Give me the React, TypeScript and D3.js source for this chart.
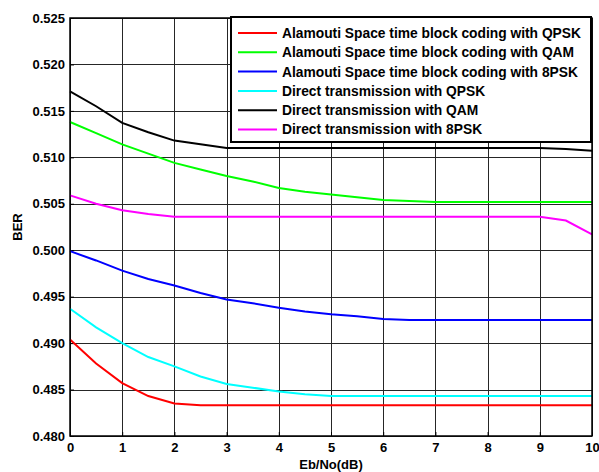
import React, { useRef, useEffect } from 'react';
import * as d3 from 'd3';

const snr = [0, 0.5, 1, 1.5, 2, 2.5, 3, 3.5, 4, 4.5, 5, 5.5, 6, 6.5, 7, 7.5, 8, 8.5, 9, 9.5, 10];

const stbcQpsk = [0.4904, 0.4878, 0.4857, 0.4843, 0.4835, 0.4833, 0.4833, 0.4833, 0.4833, 0.4833, 0.4833, 0.4833, 0.4833, 0.4833, 0.4833, 0.4833, 0.4833, 0.4833, 0.4833, 0.4833, 0.4833];
const stbcQam = [0.5138, 0.5126, 0.5114, 0.5104, 0.5094, 0.5087, 0.5080, 0.5074, 0.5067, 0.5063, 0.5060, 0.5057, 0.5054, 0.5053, 0.5052, 0.5052, 0.5052, 0.5052, 0.5052, 0.5052, 0.5052];
const stbc8psk = [0.4999, 0.4989, 0.4978, 0.4969, 0.4962, 0.4954, 0.4947, 0.4943, 0.4938, 0.4934, 0.4931, 0.4929, 0.4926, 0.4925, 0.4925, 0.4925, 0.4925, 0.4925, 0.4925, 0.4925, 0.4925];
const directQpsk = [0.4937, 0.4917, 0.4900, 0.4885, 0.4875, 0.4864, 0.4856, 0.4852, 0.4848, 0.4845, 0.4843, 0.4843, 0.4843, 0.4843, 0.4843, 0.4843, 0.4843, 0.4843, 0.4843, 0.4843, 0.4843];
const directQam = [0.5171, 0.5155, 0.5137, 0.5127, 0.5118, 0.5114, 0.5110, 0.5110, 0.5110, 0.5110, 0.5110, 0.5110, 0.5110, 0.5110, 0.5110, 0.5110, 0.5110, 0.5110, 0.5110, 0.5109, 0.5107];
const direct8psk = [0.5059, 0.5050, 0.5043, 0.5039, 0.5036, 0.5036, 0.5036, 0.5036, 0.5036, 0.5036, 0.5036, 0.5036, 0.5036, 0.5036, 0.5036, 0.5036, 0.5036, 0.5036, 0.5036, 0.5032, 0.5017];

const seriesNames = [
  'Alamouti Space time block coding with QPSK',
  'Alamouti Space time block coding with QAM',
  'Alamouti Space time block coding with 8PSK',
  'Direct transmission with QPSK',
  'Direct transmission with QAM',
  'Direct transmission with 8PSK',
];
const seriesValues = [stbcQpsk, stbcQam, stbc8psk, directQpsk, directQam, direct8psk];
const seriesColors = ['#ff0000', '#00ff00', '#0000ff', '#00ffff', '#000000', '#ff00ff'];

const xTicks = [0, 1, 2, 3, 4, 5, 6, 7, 8, 9, 10];
const yTicks = [0.48, 0.485, 0.49, 0.495, 0.5, 0.505, 0.51, 0.515, 0.52, 0.525];

const App = () => {
  const svgRef = useRef<SVGSVGElement>(null);

  useEffect(() => {
    const svg = d3.select(svgRef.current);
    svg.selectAll('*').remove();

    const width = 599;
    const height = 472;
    const margin = { top: 18, right: 7, bottom: 36, left: 70 };
    const font = '"Liberation Sans", Arial, sans-serif';

    const x = d3.scaleLinear().domain([0, 10]).range([margin.left, width - margin.right]);
    const y = d3.scaleLinear().domain([0.48, 0.525]).range([height - margin.bottom, margin.top]);

    svg.append('rect')
      .attr('width', width).attr('height', height).attr('fill', '#fff');

    // grid
    const grid = svg.append('g').attr('stroke', '#262626').attr('stroke-width', 1);
    grid.selectAll('line.v').data(xTicks).join('line')
      .attr('x1', d => Math.round(x(d)) + 0.5).attr('x2', d => Math.round(x(d)) + 0.5)
      .attr('y1', y(0.525)).attr('y2', y(0.48));
    grid.selectAll('line.h').data(yTicks).join('line')
      .attr('y1', d => Math.round(y(d)) + 0.5).attr('y2', d => Math.round(y(d)) + 0.5)
      .attr('x1', x(0)).attr('x2', x(10));

    // axes
    const xAxis = svg.append('g')
      .attr('transform', `translate(0,${height - margin.bottom})`)
      .call(d3.axisBottom(x).tickValues(xTicks).tickFormat(d3.format('d')).tickSizeInner(-4).tickSizeOuter(0).tickPadding(7));
    const yAxis = svg.append('g')
      .attr('transform', `translate(${margin.left},0)`)
      .call(d3.axisLeft(y).tickValues(yTicks).tickFormat(d3.format('.3f')).tickSizeInner(-4).tickSizeOuter(0).tickPadding(5));
    [xAxis, yAxis].forEach(g => {
      g.select('.domain').remove();
      g.selectAll('text')
        .attr('fill', '#000')
        .style('font-family', font)
        .style('font-size', '13px')
        .style('font-weight', 'bold');
      g.selectAll('line').attr('stroke', '#000');
    });

    // series lines
    const line = d3.line<number>()
      .x((_, i) => x(snr[i]))
      .y(d => y(d));
    seriesValues.forEach((vals, i) => {
      svg.append('path')
        .datum(vals)
        .attr('fill', 'none')
        .attr('stroke', seriesColors[i])
        .attr('stroke-width', 2)
        .attr('d', line);
    });

    // plot border
    svg.append('rect')
      .attr('x', x(0)).attr('y', y(0.525))
      .attr('width', x(10) - x(0)).attr('height', y(0.48) - y(0.525))
      .attr('fill', 'none').attr('stroke', '#000').attr('stroke-width', 1.5);

    // legend
    const lg = svg.append('g');
    const lx = 231;
    const ly = 17;
    const lw = 360;
    const lh = 125;
    lg.append('rect')
      .attr('x', lx).attr('y', ly).attr('width', lw).attr('height', lh)
      .attr('fill', '#fff').attr('stroke', '#000').attr('stroke-width', 2);
    seriesNames.forEach((name, i) => {
      const cy = 33 + i * 19.3;
      lg.append('line')
        .attr('x1', 238).attr('x2', 277).attr('y1', cy).attr('y2', cy)
        .attr('stroke', seriesColors[i]).attr('stroke-width', 2);
      lg.append('text')
        .attr('x', 282).attr('y', cy).attr('dy', '0.36em')
        .style('font-family', font).style('font-size', '13.8px').style('font-weight', 'bold')
        .text(name);
    });

    // axis labels
    svg.append('text')
      .attr('x', (x(0) + x(10)) / 2).attr('y', 469)
      .attr('text-anchor', 'middle')
      .style('font-family', font).style('font-size', '13px').style('font-weight', 'bold')
      .text('Eb/No(dB)');
    svg.append('text')
      .attr('transform', `translate(22,${(y(0.48) + y(0.525)) / 2}) rotate(-90)`)
      .attr('text-anchor', 'middle')
      .style('font-family', font).style('font-size', '13px').style('font-weight', 'bold')
      .text('BER');
  }, []);

  return (
    <svg ref={svgRef} width={599} height={472} style={{ position: 'absolute', left: 0, top: 0 }}></svg>
  );
};

export default App;
